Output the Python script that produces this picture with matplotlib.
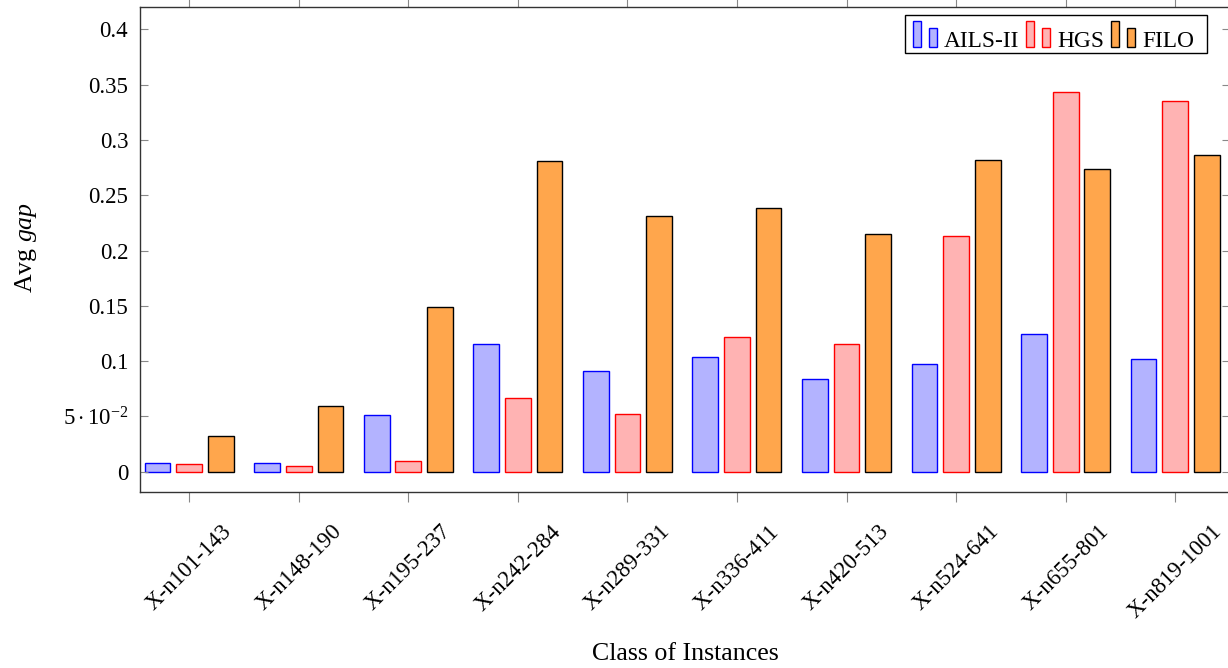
import numpy as np
import matplotlib
matplotlib.use("Agg")
import matplotlib.pyplot as plt
from matplotlib.legend_handler import HandlerBase
from matplotlib.offsetbox import DrawingArea
from matplotlib.patches import Rectangle
from matplotlib.path import Path

plt.rcParams["font.family"] = ["Liberation Serif", "DejaVu Serif"]
plt.rcParams["mathtext.fontset"] = "custom"
plt.rcParams["mathtext.rm"] = "Liberation Serif"
plt.rcParams["mathtext.it"] = "Liberation Serif:italic"
plt.rcParams["font.size"] = 16.5

classes = ["X-n101-143", "X-n148-190", "X-n195-237", "X-n242-284", "X-n289-331",
           "X-n336-411", "X-n420-513", "X-n524-641", "X-n655-801", "X-n819-1001"]
ails = [0.0081, 0.0078, 0.0515, 0.1155, 0.0913, 0.1040, 0.0838, 0.0970, 0.1241, 0.1022]
hgs = [0.0070, 0.0051, 0.0097, 0.0663, 0.0522, 0.1214, 0.1151, 0.2134, 0.3430, 0.3352]
filo = [0.0325, 0.0594, 0.1486, 0.2806, 0.2308, 0.2384, 0.2152, 0.2821, 0.2733, 0.2866]

yticks = [0, 0.05, 0.1, 0.15, 0.2, 0.25, 0.3, 0.35, 0.4]
ytick_labels = ["0", r"$5\cdot10^{-2}$", "0.1", "0.15", "0.2", "0.25", "0.3", "0.35", "0.4"]

series = [
    ("AILS-II", ails, "#b3b3ff", "blue"),
    ("HGS", hgs, "#ffb3b3", "red"),
    ("FILO", filo, "#ffa64c", "black"),
]


class TwoBarHandler(HandlerBase):
    # pgfplots-style ybar legend image: two small bars standing on the baseline
    def create_artists(self, legend, orig_handle, xdescent, ydescent,
                       width, height, fontsize, trans):
        fc = orig_handle.get_facecolor()
        ec = orig_handle.get_edgecolor()
        w = width * 0.33
        r1 = Rectangle((-xdescent, 0), w, 1.12 * fontsize, fc=fc, ec=ec, lw=1.0, transform=trans)
        r2 = Rectangle((-xdescent + width - w, 0), w, 0.83 * fontsize, fc=fc, ec=ec, lw=1.0, transform=trans)
        return [r1, r2]


def side_padded_box(left, right):
    # square frame with extra room on the left/right only (pixels)
    def box(x0, y0, width, height, mutation_size):
        x1 = x0 - left
        x2 = x0 + width + right
        y2 = y0 + height
        return Path([(x1, y0), (x2, y0), (x2, y2), (x1, y2), (x1, y0)], closed=True)
    return box


fig = plt.figure(figsize=(12.28, 6.68), dpi=100)
ax = fig.add_axes([0.114, 0.2635, 0.8876, 0.7256])

x = np.arange(len(classes))
offset = 0.289
bw = 0.235
handles = []
for i, (name, vals, fc, ec) in enumerate(series):
    bars = ax.bar(x + (i - 1) * offset, vals, bw, color=fc, edgecolor=ec, linewidth=1.0, label=name)
    handles.append(bars.patches[0])

ax.set_xlim(-0.449, 9.5)
ax.set_ylim(-0.0184, 0.42)
ax.set_xticks(x)
ax.set_xticklabels(classes, rotation=45, ha="center")
ax.set_yticks(yticks)
ax.set_yticklabels(ytick_labels)

ax.tick_params(axis="x", direction="out", top=True, length=7, width=0.8, color="#888888", pad=14)
ax.tick_params(axis="y", direction="in", right=True, length=5.5, width=0.8, color="#888888", pad=8.5)
for sp in ax.spines.values():
    sp.set_color("#333333")
    sp.set_linewidth(1.0)

ax.set_ylabel("Avg $gap$", fontsize=18.6)
ax.yaxis.set_label_coords(-0.093, 0.505)
ax.set_xlabel("Class of Instances", fontsize=18.6)
ax.xaxis.set_label_coords(0.5, -0.312)
ax.xaxis.label.set_verticalalignment("top")

leg = ax.legend(handles, [s[0] for s in series], ncol=3, loc="upper right",
                bbox_to_anchor=(0.968, 0.984), borderaxespad=0, fontsize=16.8,
                handler_map={Rectangle: TwoBarHandler()},
                handlelength=1.04, handletextpad=0.3, columnspacing=0.28,
                borderpad=0.05, fancybox=False, framealpha=1, edgecolor="black")
frame = leg.get_frame()
frame.set_linewidth(1.0)
frame.set_boxstyle(side_padded_box(7, 12))
# make room above the text for the taller legend bars
for da in leg.findobj(DrawingArea):
    da.height = 22.3

fig.savefig("out.png", dpi=100)
